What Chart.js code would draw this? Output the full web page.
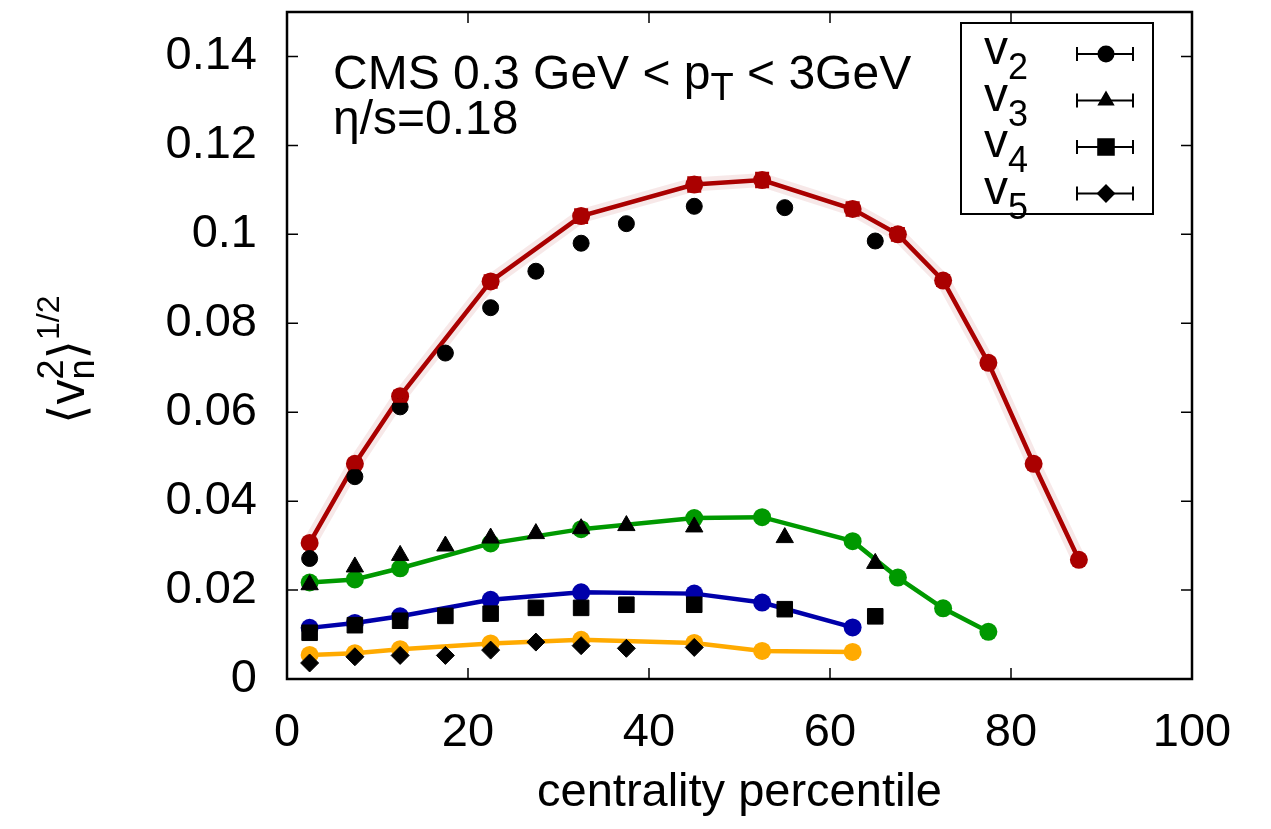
<!DOCTYPE html>
<html>
<head>
<meta charset="utf-8">
<script src="https://cdn.jsdelivr.net/npm/chart.js@4.4.0/dist/chart.umd.min.js"></script>
<style>
  html, body { margin: 0; padding: 0; background: #fff; }
  #wrap { width: 1271px; height: 829px; position: relative; }
</style>
</head>
<body>
<div id="wrap"><canvas id="vnChart"></canvas></div>
<script>
// hydro curves (coloured lines)
const hydroX = [2.5, 7.5, 12.5, 22.5, 32.5, 45, 52.5, 62.5, 67.5, 72.5, 77.5, 82.5, 87.5];
const hydroV2 = [0.0306, 0.0484, 0.0636, 0.0894, 0.1041, 0.1112, 0.1122, 0.1057, 0.1000, 0.0896, 0.0711, 0.0484, 0.0268];
const hydroV2Err = [0.0006, 0.0008, 0.0010, 0.0012, 0.0013, 0.0014, 0.0014, 0.0013, 0.0012, 0.0010, 0.0008, 0.0006, 0.0005];
const hydroV3 = [0.0217, 0.0224, 0.0249, 0.0305, 0.0337, 0.0362, 0.0364, 0.0310, 0.0228, 0.0159, 0.0106];
const hydroV4 = [0.0115, 0.0126, 0.0141, 0.0178, 0.0195, 0.0192, 0.0172, 0.0116];
const hydroV5 = [0.0054, 0.0058, 0.0067, 0.0080, 0.0088, 0.0081, 0.0063, 0.0061];

// CMS data (black symbols)
const cmsX = [2.5, 7.5, 12.5, 17.5, 22.5, 27.5, 32.5, 37.5, 45, 55, 65];
const cmsV2 = [0.0271, 0.0455, 0.0612, 0.0733, 0.0835, 0.0917, 0.0980, 0.1024, 0.1063, 0.1060, 0.0985];
const cmsV3 = [0.0212, 0.0252, 0.0278, 0.0299, 0.0317, 0.0327, 0.0338, 0.0345, 0.0342, 0.0318, 0.0260];
const cmsV4 = [0.0104, 0.0121, 0.0131, 0.0142, 0.0147, 0.0160, 0.0160, 0.0167, 0.0167, 0.0157, 0.0141];
const cmsV5 = [0.0036, 0.0050, 0.0053, 0.0053, 0.0065, 0.0083, 0.0075, 0.0069, 0.0071];

const xTicks = [0, 20, 40, 60, 80, 100];
const yTicks = [0, 0.02, 0.04, 0.06, 0.08, 0.10, 0.12, 0.14];
const yTickLabels = ["0", "0.02", "0.04", "0.06", "0.08", "0.1", "0.12", "0.14"];

const FONT = "'Liberation Sans', 'DejaVu Sans', sans-serif";

function pts(xs, ys) {
    return ys.map((y, i) => ({ x: xs[i], y: y }));
}

// draws a run of text pieces: [text, size, baselineShift, sameX]
function drawPieces(ctx, pieces, x, y) {
    let cx = 0;
    let lastX = 0;
    ctx.save();
    ctx.translate(x, y);
    ctx.textBaseline = "alphabetic";
    ctx.textAlign = "left";
    pieces.forEach(p => {
        ctx.font = p[1] + "px " + FONT;
        const start = p[3] ? lastX : cx;
        ctx.fillText(p[0], start, p[2]);
        const w = ctx.measureText(p[0]).width;
        lastX = start;
        cx = Math.max(cx, start + w);
    });
    ctx.restore();
}

const extras = {
    id: "extras",
    afterDatasetsDraw(chart) {
        const ctx = chart.ctx;
        const xs = chart.scales.x, ys = chart.scales.y;
        // error bars on the v2 hydro curve
        ctx.save();
        ctx.strokeStyle = "#aa0000";
        ctx.lineWidth = 4;
        hydroV2.forEach((v, i) => {
            const px = xs.getPixelForValue(hydroX[i]);
            const y1 = ys.getPixelForValue(v - hydroV2Err[i]);
            const y2 = ys.getPixelForValue(v + hydroV2Err[i]);
            ctx.beginPath();
            ctx.moveTo(px, y1); ctx.lineTo(px, y2);
            ctx.moveTo(px - 7, y1); ctx.lineTo(px + 7, y1);
            ctx.moveTo(px - 7, y2); ctx.lineTo(px + 7, y2);
            ctx.stroke();
        });
        ctx.restore();
    },
    afterDraw(chart) {
        const ctx = chart.ctx;
        const a = chart.chartArea;
        const xs = chart.scales.x, ys = chart.scales.y;
        ctx.save();
        // frame
        ctx.strokeStyle = "#000";
        ctx.lineWidth = 2.5;
        ctx.strokeRect(a.left, a.top, a.right - a.left, a.bottom - a.top);
        // inward ticks on all sides
        ctx.lineWidth = 1.5;
        ctx.beginPath();
        xTicks.forEach(v => {
            const px = xs.getPixelForValue(v);
            ctx.moveTo(px, a.bottom); ctx.lineTo(px, a.bottom - 11);
            ctx.moveTo(px, a.top); ctx.lineTo(px, a.top + 11);
        });
        yTicks.forEach(v => {
            const py = ys.getPixelForValue(v);
            ctx.moveTo(a.left, py); ctx.lineTo(a.left + 11, py);
            ctx.moveTo(a.right, py); ctx.lineTo(a.right - 11, py);
        });
        ctx.stroke();

        ctx.fillStyle = "#000";
        // annotation
        drawPieces(ctx, [["CMS 0.3 GeV < p", 48, 0], ["T", 38, 11], [" < 3GeV", 48, 0]], 333, 89);
        drawPieces(ctx, [["\u03b7/s=0.18", 48, 0]], 333, 134);

        // legend box
        ctx.lineWidth = 2;
        ctx.strokeRect(961, 23, 192, 191);
        const rows = [
            ["2", "circle", 7.5],
            ["3", "triangle", 8],
            ["4", "rect", 11],
            ["5", "rectRot", 8]
        ];
        rows.forEach((r, i) => {
            const my = 54 + i * 46.5;
            drawPieces(ctx, [["v", 48, 0], [r[0], 36, 15]], 984, my + 10);
            ctx.lineWidth = 2;
            ctx.beginPath();
            ctx.moveTo(1077, my); ctx.lineTo(1133, my);
            ctx.moveTo(1077, my - 7); ctx.lineTo(1077, my + 7);
            ctx.moveTo(1133, my - 7); ctx.lineTo(1133, my + 7);
            ctx.stroke();
            Chart.helpers.drawPoint(ctx, { pointStyle: r[1], radius: r[2], rotation: 0, borderWidth: 1 }, 1106, my);
        });

        // y axis title, rotated
        ctx.save();
        ctx.translate(84, 424);
        ctx.rotate(-Math.PI / 2);
        drawPieces(ctx, [
            ["\u27e8", 50, 0],
            ["v", 50, 0],
            ["n", 36, 10],
            ["2", 36, -21, true],
            ["\u27e9", 50, 0],
            ["1/2", 32, -25]
        ], 0, 0);
        ctx.restore();
        ctx.restore();
    }
};

function trimPad(s) {
    s.paddingTop = 0;
    s.paddingBottom = 0;
    s.paddingLeft = 0;
    s.paddingRight = 0;
}

new Chart(document.getElementById("vnChart").getContext("2d"), {
    type: "scatter",
    data: {
        datasets: [
            {
                label: "v2 data", data: pts(cmsX, cmsV2), pointStyle: "circle", pointRadius: 8,
                backgroundColor: "#000", borderColor: "#000", borderWidth: 1, showLine: false
            },
            {
                label: "v3 data", data: pts(cmsX, cmsV3), pointStyle: "triangle", pointRadius: 10,
                backgroundColor: "#000", borderColor: "#000", borderWidth: 1, showLine: false
            },
            {
                label: "v4 data", data: pts(cmsX, cmsV4), pointStyle: "rect", pointRadius: 11,
                backgroundColor: "#000", borderColor: "#000", borderWidth: 1, showLine: false
            },
            {
                label: "v5 data", data: pts(cmsX, cmsV5), pointStyle: "rectRot", pointRadius: 9,
                backgroundColor: "#000", borderColor: "#000", borderWidth: 1, showLine: false
            },
            {
                label: "v2 hydro", data: pts(hydroX, hydroV2), showLine: true, borderColor: "#aa0000",
                backgroundColor: "#aa0000", borderWidth: 4.5, pointRadius: 9, pointBorderWidth: 0
            },
            {
                label: "v2 band", data: pts(hydroX, hydroV2), showLine: true, borderColor: "rgba(170,0,0,0.09)",
                borderWidth: 14, pointRadius: 0
            },
            {
                label: "v3 hydro", data: pts(hydroX, hydroV3), showLine: true, borderColor: "#009900",
                backgroundColor: "#009900", borderWidth: 4.5, pointRadius: 9, pointBorderWidth: 0
            },
            {
                label: "v4 hydro", data: pts(hydroX, hydroV4), showLine: true, borderColor: "#0000aa",
                backgroundColor: "#0000aa", borderWidth: 4.5, pointRadius: 9, pointBorderWidth: 0
            },
            {
                label: "v5 hydro", data: pts(hydroX, hydroV5), showLine: true, borderColor: "#ffaa00",
                backgroundColor: "#ffaa00", borderWidth: 4.5, pointRadius: 9, pointBorderWidth: 0
            }
        ]
    },
    options: {
        responsive: true,
        maintainAspectRatio: false,
        animation: false,
        layout: { padding: { top: 11, right: 79, left: 0, bottom: 0 } },
        plugins: {
            legend: { display: false },
            tooltip: { enabled: false }
        },
        scales: {
            x: {
                type: "linear",
                min: 0,
                max: 100,
                grid: { display: false, drawTicks: false },
                border: { display: false },
                afterBuildTicks: s => { s.ticks = xTicks.map(v => ({ value: v })); },
                afterFit: s => { s.height = 150; trimPad(s); },
                ticks: {
                    padding: 26,
                    color: "#000",
                    font: { family: FONT, size: 47 },
                    maxRotation: 0,
                    autoSkip: false
                },
                title: {
                    display: true,
                    text: "centrality percentile",
                    color: "#000",
                    font: { family: FONT, size: 47 },
                    padding: { top: 0, bottom: 8 }
                }
            },
            y: {
                type: "linear",
                min: 0,
                max: 0.15,
                grid: { display: false, drawTicks: false },
                border: { display: false },
                afterBuildTicks: s => { s.ticks = yTicks.map(v => ({ value: v })); },
                afterFit: s => { s.width = 287; trimPad(s); },
                ticks: {
                    padding: 30,
                    color: "#000",
                    font: { family: FONT, size: 47 },
                    autoSkip: false,
                    callback: (v, i) => yTickLabels[i]
                }
            }
        }
    },
    plugins: [extras]
});
</script>
</body>
</html>
